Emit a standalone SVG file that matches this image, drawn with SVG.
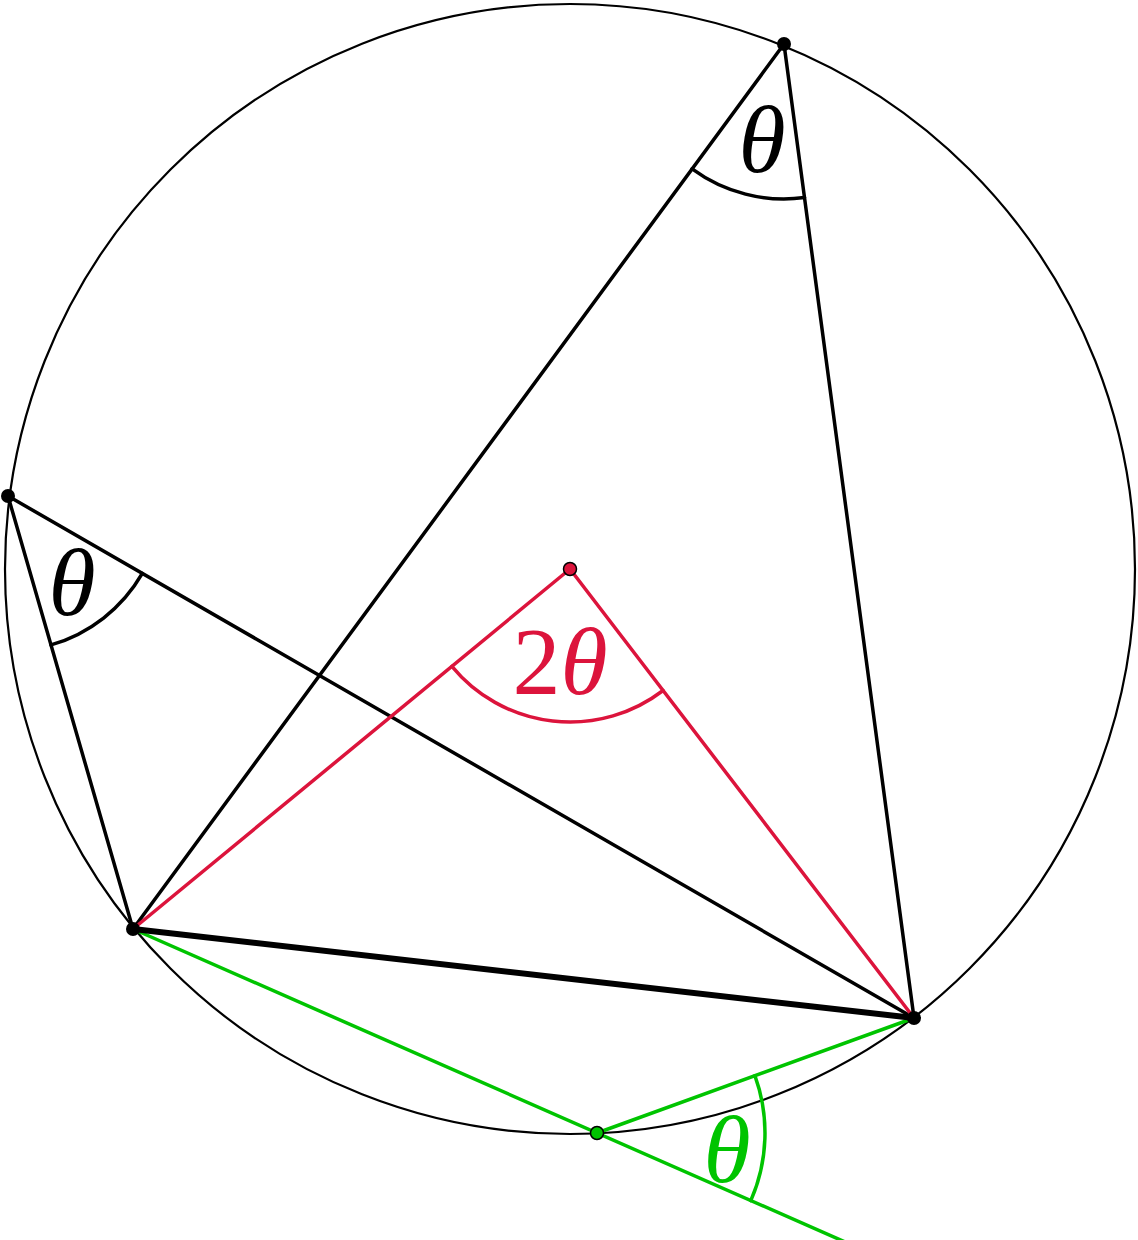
<svg xmlns="http://www.w3.org/2000/svg" width="1138" height="1240" viewBox="0 0 1138 1240">
<style>
.circ{fill:none;stroke:#000;stroke-width:2.2}
.blk{fill:none;stroke:#000;stroke-width:3.5;stroke-linecap:round}
.thick{fill:none;stroke:#000;stroke-width:6;stroke-linecap:round}
.red{fill:none;stroke:#dc143c;stroke-width:3.5;stroke-linecap:round}
.grn{fill:none;stroke:#00c400;stroke-width:3.5;stroke-linecap:round}
.lbl{font-family:"Liberation Serif","DejaVu Serif",serif;font-style:italic;font-size:96px;text-anchor:middle}
</style>
<rect width="1138" height="1240" fill="#fff"/>
<g id="circle"><circle class="circ" cx="570" cy="569" r="565"/></g>
<g id="connectors">
<line class="blk" x1="784" y1="44" x2="133" y2="929"/>
<line class="blk" x1="784" y1="44" x2="914" y2="1018"/>
<line class="blk" x1="8" y1="496" x2="133" y2="929"/>
<line class="blk" x1="8" y1="496" x2="914" y2="1018"/>
<line class="red" x1="570" y1="569" x2="133" y2="929"/>
<line class="red" x1="570" y1="569" x2="914" y2="1018"/>
<line class="grn" x1="133" y1="929" x2="852" y2="1245"/>
<line class="grn" x1="597" y1="1133" x2="914" y2="1018"/>
<line class="thick" x1="133" y1="929" x2="914" y2="1018"/>
<path class="blk" d="M692.1,168.9 A155,155 0 0 0 804.5,197.6"/>
<path class="blk" d="M51.0,644.9 A155,155 0 0 0 142.3,573.4"/>
<path class="red" d="M451.9,666.3 A153,153 0 0 0 663.1,690.5"/>
<path class="grn" d="M754.9,1075.7 A168,168 0 0 1 750.8,1200.6"/>
</g>
<g id="labels">
<text class="lbl" x="762" y="172" fill="#000">θ</text>
<text class="lbl" x="72" y="615" fill="#000">θ</text>
<text class="lbl" x="560" y="694" fill="#dc143c"><tspan font-style="normal">2</tspan>θ</text>
<text class="lbl" x="727" y="1182" fill="#00c400">θ</text>
</g>
<g id="node-A"><circle cx="784" cy="44" r="7" fill="#000"/></g>
<g id="node-B"><circle cx="8" cy="496" r="7" fill="#000"/></g>
<g id="node-P"><circle cx="133" cy="929" r="7" fill="#000"/></g>
<g id="node-Q"><circle cx="914" cy="1018" r="7" fill="#000"/></g>
<g id="node-O"><circle cx="570" cy="569" r="6.5" fill="#dc143c" stroke="#000" stroke-width="1.5"/></g>
<g id="node-G"><circle cx="597" cy="1133" r="6.5" fill="#00c400" stroke="#000" stroke-width="1.5"/></g>
</svg>
